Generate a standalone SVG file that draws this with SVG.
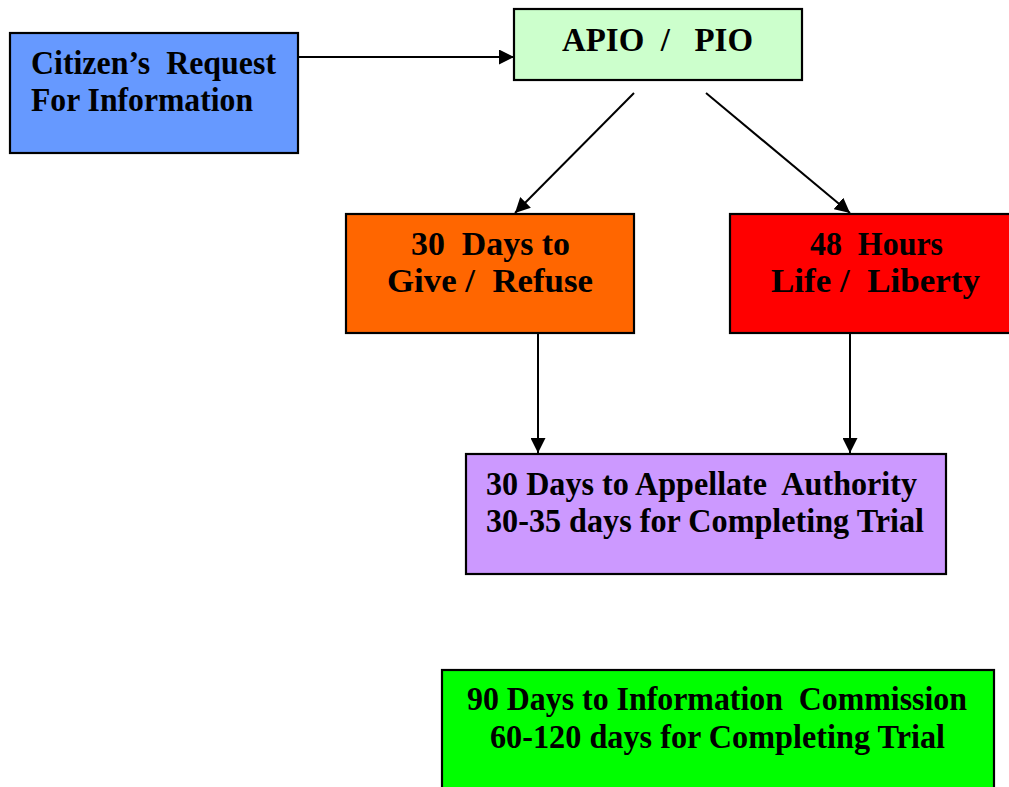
<svg xmlns="http://www.w3.org/2000/svg" width="1009" height="787" viewBox="0 0 1009 787">
<style>
.box{stroke:#000;stroke-width:2.2}
.t{font-family:"Liberation Serif","Times New Roman",serif;font-weight:bold;font-size:33px;fill:#000;white-space:pre}
.c{stroke:#000;stroke-width:2;fill:none}
</style>
<defs>
<marker id="ah" markerWidth="15" markerHeight="15" refX="15" refY="7.5" orient="auto" markerUnits="userSpaceOnUse" viewBox="0 0 15 15">
<path d="M0,0 L15,7.5 L0,15 z" fill="#000"/>
</marker>
</defs>
<rect width="1009" height="787" fill="#fff"/>
<g id="connectors">
<line class="c" x1="298" y1="57" x2="514" y2="57" marker-end="url(#ah)"/>
<line class="c" x1="634" y1="93" x2="515" y2="213" marker-end="url(#ah)"/>
<line class="c" x1="706" y1="93" x2="850" y2="213" marker-end="url(#ah)"/>
<line class="c" x1="538" y1="333" x2="538" y2="453" marker-end="url(#ah)"/>
<line class="c" x1="850" y1="333" x2="850" y2="453" marker-end="url(#ah)"/>
</g>
<g id="citizen">
<rect class="box" x="10" y="33" width="288" height="120" fill="#6699ff"/>
<text class="t" x="31" y="74" textLength="245" lengthAdjust="spacingAndGlyphs" xml:space="preserve">Citizen’s  Request</text>
<text class="t" x="31" y="111" textLength="222" lengthAdjust="spacingAndGlyphs">For Information</text>
</g>
<g id="pio">
<rect class="box" x="514" y="9" width="288" height="71" fill="#ccffcc"/>
<text class="t" x="657.5" y="51" text-anchor="middle" textLength="191" lengthAdjust="spacingAndGlyphs" xml:space="preserve">APIO  /   PIO</text>
</g>
<g id="give">
<rect class="box" x="346" y="214" width="288" height="119" fill="#ff6600"/>
<text class="t" x="490.5" y="255" text-anchor="middle" textLength="159" lengthAdjust="spacingAndGlyphs" xml:space="preserve">30  Days to</text>
<text class="t" x="490" y="292" text-anchor="middle" textLength="206" lengthAdjust="spacingAndGlyphs" xml:space="preserve">Give /  Refuse</text>
</g>
<g id="life">
<rect class="box" x="730" y="214" width="290" height="119" fill="#ff0000"/>
<text class="t" x="876.5" y="255" text-anchor="middle" textLength="133" lengthAdjust="spacingAndGlyphs" xml:space="preserve">48  Hours</text>
<text class="t" x="875.5" y="292" text-anchor="middle" textLength="209" lengthAdjust="spacingAndGlyphs" xml:space="preserve">Life /  Liberty</text>
</g>
<g id="appellate">
<rect class="box" x="466" y="454" width="480" height="120" fill="#cc99ff"/>
<text class="t" x="486" y="495" textLength="431" lengthAdjust="spacingAndGlyphs" xml:space="preserve">30 Days to Appellate  Authority</text>
<text class="t" x="486" y="532" textLength="438" lengthAdjust="spacingAndGlyphs">30-35 days for Completing Trial</text>
</g>
<g id="commission">
<rect class="box" x="442" y="670" width="552" height="130" fill="#00ff00"/>
<text class="t" x="717" y="710" text-anchor="middle" textLength="500" lengthAdjust="spacingAndGlyphs" xml:space="preserve">90 Days to Information  Commission</text>
<text class="t" x="717.5" y="748" text-anchor="middle" textLength="455" lengthAdjust="spacingAndGlyphs">60-120 days for Completing Trial</text>
</g>
</svg>
